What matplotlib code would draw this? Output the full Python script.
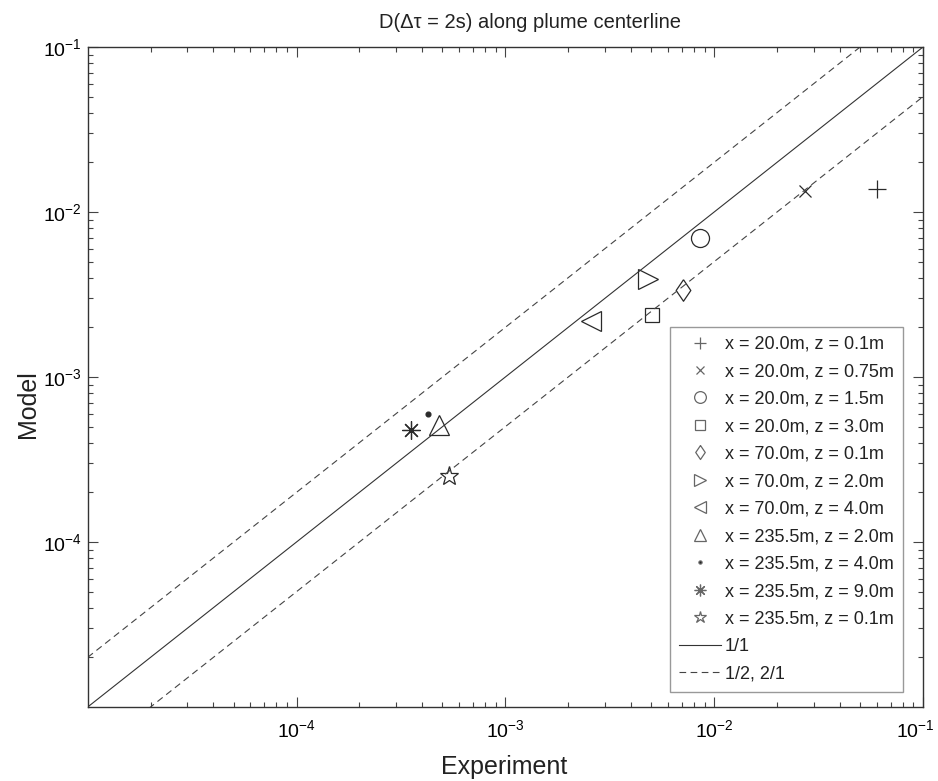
#!/usr/bin/env python3
"""Model vs experiment scatter of D(dtau = 2s) along the plume centerline."""

import matplotlib

matplotlib.use("Agg")
import matplotlib.pyplot as plt
import numpy as np
from matplotlib.ticker import LogLocator, LogFormatterSciNotation, NullFormatter

plt.rcParams["font.family"] = ["Liberation Sans", "DejaVu Sans"]
plt.rcParams["mathtext.fontset"] = "custom"
plt.rcParams["mathtext.rm"] = "Liberation Sans"
plt.rcParams["mathtext.it"] = "Liberation Sans:italic"
plt.rcParams["axes.unicode_minus"] = False

# station labels and values
labels = [
    "x = 20.0m, z = 0.1m",
    "x = 20.0m, z = 0.75m",
    "x = 20.0m, z = 1.5m",
    "x = 20.0m, z = 3.0m",
    "x = 70.0m, z = 0.1m",
    "x = 70.0m, z = 2.0m",
    "x = 70.0m, z = 4.0m",
    "x = 235.5m, z = 2.0m",
    "x = 235.5m, z = 4.0m",
    "x = 235.5m, z = 9.0m",
    "x = 235.5m, z = 0.1m",
]
experiment = [0.0603, 0.0272, 0.00857, 0.00506, 0.00708, 0.00484, 0.00257,
              0.000482, 0.000425, 0.000353, 0.000537]
model = [0.01378, 0.01346, 0.00699, 0.00239, 0.00338, 0.00393, 0.00220,
         0.000514, 0.000600, 0.000480, 0.000250]
axis_limits = (1e-5, 1e-1)

# a diamond a little wider than matplotlib's thin one
diamond = [(0, 1), (0.68, 0), (0, -1), (-0.68, 0), (0, 1)]
markers = ["+", "x", "o", "s", diamond, ">", "<", "^", "o", (8, 2, 0), "*"]
sizes = [13, 9, 13, 10.5, 15.5, 14, 14, 14, 3.5, 13, 14]
filled = [False] * 8 + [True, False, False]

fig = plt.figure(figsize=(9.38, 7.81), dpi=100, facecolor="white")
ax = fig.add_axes([87.7 / 938, 74 / 781, 835.3 / 938, 660 / 781])
ax.set_xscale("log")
ax.set_yscale("log")
ax.set_xlim(*axis_limits)
ax.set_ylim(*axis_limits)

ink = "#2a2a2a"
for xv, yv, lab, mk, ms, fl in zip(experiment, model, labels, markers, sizes, filled):
    ax.plot(
        [xv], [yv],
        linestyle="none",
        marker=mk,
        markersize=ms,
        markerfacecolor=ink if fl else "none",
        markeredgecolor=ink,
        markeredgewidth=0.9,
        label=lab,
    )

ref = np.array(axis_limits)
ax.plot(ref, ref, color="#333333", linewidth=0.8, label="1/1")
ax.plot(ref, ref * 2, color="#444444", linewidth=0.8, linestyle=(0, (6, 4)),
        label="1/2, 2/1")
ax.plot(ref, ref / 2, color="#444444", linewidth=0.8, linestyle=(0, (6, 4)))

ax.xaxis.set_major_locator(LogLocator(base=10, numticks=10))
ax.yaxis.set_major_locator(LogLocator(base=10, numticks=10))
ax.xaxis.set_minor_locator(LogLocator(base=10, subs=np.arange(2, 10), numticks=20))
ax.yaxis.set_minor_locator(LogLocator(base=10, subs=np.arange(2, 10), numticks=20))
ax.xaxis.set_minor_formatter(NullFormatter())
ax.yaxis.set_minor_formatter(NullFormatter())
ax.xaxis.set_major_formatter(LogFormatterSciNotation())
ax.yaxis.set_major_formatter(LogFormatterSciNotation())
ax.tick_params(which="both", direction="in", top=True, right=True,
               color="#444444", width=0.8)
ax.tick_params(which="major", length=7, labelsize=14)
ax.tick_params(axis="x", which="major", pad=9)
ax.tick_params(axis="y", which="major", pad=4)
ax.tick_params(which="minor", length=3.5)
for spine in ax.spines.values():
    spine.set_color("#333333")
    spine.set_linewidth(1.0)

# the 1e-5 corner carries no label
fig.canvas.draw()
xt = [t for t in ax.get_xticks() if axis_limits[0] < t <= axis_limits[1]]
yt = [t for t in ax.get_yticks() if axis_limits[0] < t <= axis_limits[1]]
ax.set_xticks(xt)
ax.set_yticks(yt)
fig.canvas.draw()
# keep the right-hand corner label inside the image
last = ax.get_xticklabels()[-1]
last.set_horizontalalignment("right")
last.set_x(last.get_position()[0])
for tick in ax.xaxis.get_major_ticks()[-1:]:
    tick.label1.set_horizontalalignment("right")
    tick.label1.set_transform(tick.label1.get_transform()
                              + matplotlib.transforms.ScaledTranslation(12 / 100, 0, fig.dpi_scale_trans))

legend = ax.legend(
    loc="upper right",
    bbox_to_anchor=(0.976, 0.576),
    borderaxespad=0,
    fontsize=13,
    frameon=True,
    fancybox=False,
    edgecolor="#999999",
    framealpha=1,
    markerscale=0.65,
    labelspacing=0.58,
    handlelength=2.3,
    handletextpad=0.25,
    borderpad=0.5,
)
legend.get_frame().set_linewidth(1.0)
for text in legend.get_texts():
    text.set_color("#222222")
for handle in legend.legend_handles:
    handle.set_markeredgecolor("#666666")
    if handle.get_markerfacecolor() != "none":
        handle.set_markerfacecolor("#222222")

fig.text(530 / 938, 1 - 22 / 781, "D(\u0394\u03c4 = 2s) along plume centerline",
         ha="center", va="center", fontsize=14.5, color="#222222")
fig.text(504 / 938, 1 - 767 / 781, "Experiment", ha="center", va="center",
         fontsize=18, color="#222222")
fig.text(28 / 938, 377 / 781, "Model", ha="center", va="center", rotation=90,
         fontsize=18, color="#222222")

fig.savefig("out.png", dpi=100, facecolor=fig.get_facecolor())
plt.close(fig)
